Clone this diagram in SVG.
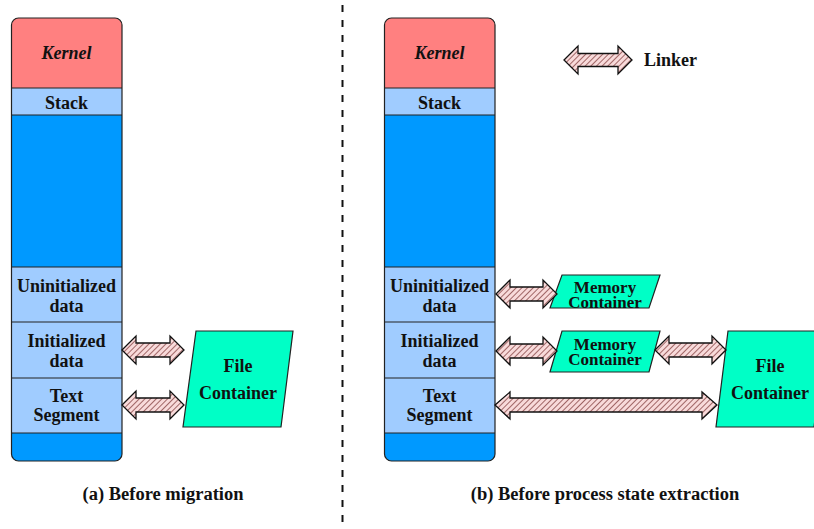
<svg xmlns="http://www.w3.org/2000/svg" width="814" height="529" viewBox="0 0 814 529">
<style>
  .t{font-family:"Liberation Serif","DejaVu Serif",serif;font-weight:bold;font-size:18px;fill:#111;text-anchor:middle}
  .cap{font-size:18.5px}
  .mem{font-size:17px}
  .it{font-style:italic}
  .ln{stroke:#222;stroke-width:1.2;fill:none}
  .kern{fill:#ff8080}
  .lb{fill:#a0ccff}
  .db{fill:#0099ff}
  .cont{fill:#00ffc6;stroke:#222;stroke-width:1.2}
  .arr{fill:url(#hatch);stroke:#111;stroke-width:1.3;stroke-linejoin:miter}
</style>
<defs>
  <pattern id="hatch" patternUnits="userSpaceOnUse" width="4" height="4" patternTransform="rotate(45)">
    <rect width="4" height="4" fill="#f8dada"/>
    <line x1="0" y1="0" x2="0" y2="4" stroke="#7a3434" stroke-width="1.4"/>
  </pattern>
  <clipPath id="colA"><rect x="11.5" y="18" width="110.5" height="443" rx="7"/></clipPath>
  <clipPath id="colB"><rect x="384.5" y="18" width="110.5" height="443" rx="7"/></clipPath>
</defs>

<line x1="342.5" y1="5" x2="342.5" y2="529" stroke="#111" stroke-width="2" stroke-dasharray="7 8"/>

<g id="panelA">
  <g clip-path="url(#colA)">
    <rect class="kern" x="11" y="18" width="112" height="70"/>
    <rect class="lb" x="11" y="88" width="112" height="27"/>
    <rect class="db" x="11" y="115" width="112" height="152"/>
    <rect class="lb" x="11" y="267" width="112" height="166"/>
    <rect class="db" x="11" y="433" width="112" height="28"/>
  </g>
  <g class="ln">
    <line x1="11.5" y1="88" x2="122" y2="88"/>
    <line x1="11.5" y1="115" x2="122" y2="115"/>
    <line x1="11.5" y1="267" x2="122" y2="267"/>
    <line x1="11.5" y1="322" x2="122" y2="322"/>
    <line x1="11.5" y1="378" x2="122" y2="378"/>
    <line x1="11.5" y1="433" x2="122" y2="433"/>
    <rect x="11.5" y="18" width="110.5" height="443" rx="7"/>
  </g>
  <g id="a-kernel"><text class="t it" x="66.5" y="58.5">Kernel</text></g>
  <g id="a-stack"><text class="t" x="66.5" y="109">Stack</text></g>
  <g id="a-uninit"><text class="t" x="66.5" y="292">Uninitialized</text><text class="t" x="66.5" y="312">data</text></g>
  <g id="a-init"><text class="t" x="66.5" y="347">Initialized</text><text class="t" x="66.5" y="367">data</text></g>
  <g id="a-text"><text class="t" x="66.5" y="402">Text</text><text class="t" x="66.5" y="421">Segment</text></g>
  <g id="a-file">
    <polygon class="cont" points="196,331 293,331 281,427 183,427"/>
    <text class="t" x="238" y="372">File</text>
    <text class="t" x="238" y="399">Container</text>
  </g>
  <text class="t cap" x="163" y="500">(a) Before migration</text>
</g>

<g id="panelB">
  <g clip-path="url(#colB)">
    <rect class="kern" x="384" y="18" width="112" height="70"/>
    <rect class="lb" x="384" y="88" width="112" height="27"/>
    <rect class="db" x="384" y="115" width="112" height="152"/>
    <rect class="lb" x="384" y="267" width="112" height="166"/>
    <rect class="db" x="384" y="433" width="112" height="28"/>
  </g>
  <g class="ln">
    <line x1="384.5" y1="88" x2="495" y2="88"/>
    <line x1="384.5" y1="115" x2="495" y2="115"/>
    <line x1="384.5" y1="267" x2="495" y2="267"/>
    <line x1="384.5" y1="322" x2="495" y2="322"/>
    <line x1="384.5" y1="378" x2="495" y2="378"/>
    <line x1="384.5" y1="433" x2="495" y2="433"/>
    <rect x="384.5" y="18" width="110.5" height="443" rx="7"/>
  </g>
  <g id="b-kernel"><text class="t it" x="439.5" y="58.5">Kernel</text></g>
  <g id="b-stack"><text class="t" x="439.5" y="109">Stack</text></g>
  <g id="b-uninit"><text class="t" x="439.5" y="292">Uninitialized</text><text class="t" x="439.5" y="312">data</text></g>
  <g id="b-init"><text class="t" x="439.5" y="347">Initialized</text><text class="t" x="439.5" y="367">data</text></g>
  <g id="b-text"><text class="t" x="439.5" y="402">Text</text><text class="t" x="439.5" y="421">Segment</text></g>
  <g id="b-mem1">
    <polygon class="cont" points="562,275 660,275 649,308 550,308"/>
    <text class="t mem" x="605" y="293">Memory</text>
    <text class="t mem" x="605" y="308">Container</text>
  </g>
  <g id="b-mem2">
    <polygon class="cont" points="562,331 660,331 649,372 550,372"/>
    <text class="t mem" x="605" y="350">Memory</text>
    <text class="t mem" x="605" y="365">Container</text>
  </g>
  <g id="b-file">
    <polygon class="cont" points="728,331 826,331 814,427 716,427"/>
    <text class="t" x="770" y="372">File</text>
    <text class="t" x="770" y="399">Container</text>
  </g>
  <g id="legend">
    <text class="t" x="644" y="66" style="text-anchor:start">Linker</text>
  </g>
  <text class="t cap" x="605" y="500">(b) Before process state extraction</text>
</g>

<g id="connectors">
  <path class="arr" d="M122,350 L136,336 L136,343 L170,343 L170,336 L184,350 L170,364 L170,357 L136,357 L136,364 Z"/>
  <path class="arr" d="M122,405 L136,391 L136,398 L170,398 L170,391 L184,405 L170,419 L170,412 L136,412 L136,419 Z"/>
  <path class="arr" d="M564,60 L578,46 L578,53.5 L618,53.5 L618,46 L632,60 L618,74 L618,66.5 L578,66.5 L578,74 Z"/>
  <path class="arr" d="M496,294 L510,280 L510,287 L543,287 L543,280 L557,294 L543,308 L543,301 L510,301 L510,308 Z"/>
  <path class="arr" d="M496,351 L510,337 L510,344 L543,344 L543,337 L557,351 L543,365 L543,358 L510,358 L510,365 Z"/>
  <path class="arr" d="M655,350 L669,336 L669,343 L712,343 L712,336 L726,350 L712,364 L712,357 L669,357 L669,364 Z"/>
  <path class="arr" d="M495,405 L510,392 L510,398 L702,398 L702,392 L717,405 L702,419 L702,412 L510,412 L510,419 Z"/>
</g>
</svg>
